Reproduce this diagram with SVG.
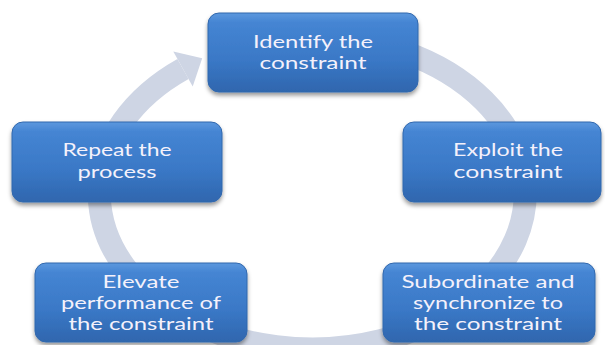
<svg xmlns="http://www.w3.org/2000/svg" width="605" height="345" viewBox="0 0 605 345">
  <defs>
    <linearGradient id="boxFill" x1="0" y1="0" x2="0" y2="1">
      <stop offset="0" stop-color="#5c98de"/>
      <stop offset="0.12" stop-color="#4585d3"/>
      <stop offset="0.6" stop-color="#3a78c6"/>
      <stop offset="1" stop-color="#2f66ae"/>
    </linearGradient>
    <filter id="shadow" x="-10%" y="-20%" width="120%" height="150%">
      <feDropShadow dx="0" dy="3" stdDeviation="2.2" flood-color="#000" flood-opacity="0.4"/>
    </filter>
  </defs>
  <style>
    .box { fill: url(#boxFill); stroke: #3168ad; stroke-width: 1; filter: url(#shadow); }
    .label { font-family: Lato, "Open Sans", "Liberation Sans", sans-serif; font-size: 17px; fill: #f4f1fb; text-anchor: middle; }
    .ring { fill: none; stroke: #ced5e4; stroke-width: 23; }
    .head { fill: #ced5e4; }
  </style>
  <rect width="605" height="345" fill="#ffffff"/>

  <!-- cycle arrow running clockwise behind the steps -->
  <g id="connectors">
    <path class="ring" d="M 312 37 A 213 156 0 1 1 183 69"/>
    <polygon class="head" points="173.3,51.5 202.2,58.3 192.7,86.5"/>
  </g>

  <g id="identify">
    <rect class="box" x="208" y="13" width="210" height="79" rx="11"/>
    <text class="label" x="313" y="48" textLength="120" lengthAdjust="spacingAndGlyphs">Identify the</text>
    <text class="label" x="313" y="69" textLength="107" lengthAdjust="spacingAndGlyphs">constraint</text>
  </g>

  <g id="exploit">
    <rect class="box" x="403" y="122" width="198" height="80" rx="11"/>
    <text class="label" x="508" y="156" textLength="110" lengthAdjust="spacingAndGlyphs">Exploit the</text>
    <text class="label" x="508" y="178" textLength="109" lengthAdjust="spacingAndGlyphs">constraint</text>
  </g>

  <g id="subordinate">
    <rect class="box" x="383" y="263" width="212" height="79" rx="11"/>
    <text class="label" x="488" y="288" textLength="173" lengthAdjust="spacingAndGlyphs">Subordinate and</text>
    <text class="label" x="488" y="309" textLength="150" lengthAdjust="spacingAndGlyphs">synchronize to</text>
    <text class="label" x="488" y="330" textLength="148" lengthAdjust="spacingAndGlyphs">the constraint</text>
  </g>

  <g id="elevate">
    <rect class="box" x="35" y="263" width="212" height="79" rx="11"/>
    <text class="label" x="141" y="288" textLength="77" lengthAdjust="spacingAndGlyphs">Elevate</text>
    <text class="label" x="141" y="309" textLength="160" lengthAdjust="spacingAndGlyphs">performance of</text>
    <text class="label" x="141" y="330" textLength="145" lengthAdjust="spacingAndGlyphs">the constraint</text>
  </g>

  <g id="repeat">
    <rect class="box" x="12" y="122" width="210" height="80" rx="11"/>
    <text class="label" x="117" y="156" textLength="109" lengthAdjust="spacingAndGlyphs">Repeat the</text>
    <text class="label" x="117" y="178" textLength="79" lengthAdjust="spacingAndGlyphs">process</text>
  </g>
</svg>
